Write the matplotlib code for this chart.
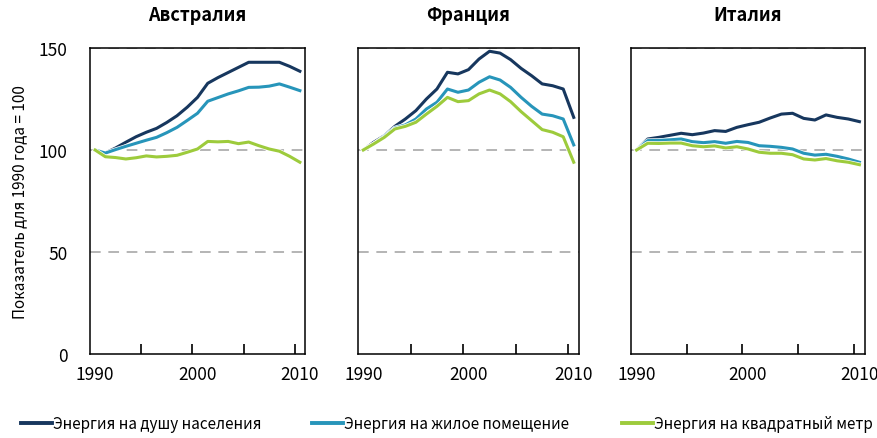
import matplotlib
matplotlib.use("Agg")
import matplotlib.pyplot as plt
import matplotlib.patheffects as pe
from matplotlib.lines import Line2D

plt.rcParams['font.family'] = ['Noto Sans CJK SC', 'DejaVu Sans']

years = list(range(1990, 2011))

# Австралия
aus_capita = [100, 98.5, 101, 103.8, 106.5, 108.7, 110.6, 113.5, 116.8, 121, 125.8,
              132.7, 135.5, 138, 140.5, 143, 143, 143, 143, 141, 138.6]
aus_dwelling = [100, 98.5, 100.2, 101.8, 103.3, 104.8, 106.2, 108.5, 111.1, 114.5, 118,
                123.9, 125.7, 127.5, 129, 130.7, 130.8, 131.3, 132.4, 130.8, 129.1]
aus_sqm = [100, 96.7, 96.3, 95.6, 96.2, 97.1, 96.6, 96.9, 97.4, 98.9, 100.5,
           104.2, 104.0, 104.2, 103.1, 103.9, 102.1, 100.5, 99.4, 96.9, 94.0]

# Франция
fra_capita = [100, 103.8, 107, 111.6, 115.2, 119.3, 125, 129.9, 138.1, 137.3, 139.4,
              144.6, 148.4, 147.5, 144.3, 140, 136.4, 132.4, 131.5, 129.9, 116]
fra_dwelling = [100, 103, 106.7, 110.8, 112.3, 115.2, 120.1, 123.4, 129.9, 128.3, 129.4,
                133.2, 135.9, 134.3, 130.7, 125.8, 121.4, 117.6, 116.8, 115.2, 102.5]
fra_sqm = [100, 103, 106.2, 110.3, 111.6, 113.6, 117.6, 121.4, 125.8, 123.7, 124.2,
           127.5, 129.4, 127.5, 123.7, 118.8, 114.4, 110, 108.7, 106.5, 94]

# Италия
ita_capita = [100, 105.4, 106.2, 107.2, 108.2, 107.5, 108.3, 109.5, 109.1, 111.1, 112.4,
              113.6, 115.7, 117.6, 118.0, 115.5, 114.7, 117.2, 116.0, 115.2, 113.9]
ita_dwelling = [100, 104.6, 104.7, 105, 105.4, 104.1, 103.6, 104.1, 103.3, 104.2, 103.7,
                102.1, 101.8, 101.3, 100.5, 98.4, 97.5, 97.9, 96.9, 95.6, 94]
ita_sqm = [100, 103.3, 103.2, 103.4, 103.4, 102.1, 101.6, 102, 101, 101.6, 100.5,
           98.9, 98.4, 98.4, 97.7, 95.6, 95.1, 95.8, 94.7, 94, 92.8]

countries = ['Австралия', 'Франция', 'Италия']
series_names = ['Энергия на душу населения', 'Энергия на жилое помещение', 'Энергия на квадратный метр']
colors = ['#17375E', '#2795BA', '#9DCB3C']
data = [[aus_capita, aus_dwelling, aus_sqm],
        [fra_capita, fra_dwelling, fra_sqm],
        [ita_capita, ita_dwelling, ita_sqm]]

W, H = 877, 439
fig = plt.figure(figsize=(W / 100, H / 100), dpi=100)

# границы панелей в пикселях (лево, право)
panels = [(90, 305), (358, 579), (631, 865)]
top_px, bottom_px = 49, 355

for i, (l, r) in enumerate(panels):
    ax = fig.add_axes([l / W, 1 - bottom_px / H, (r - l) / W, (bottom_px - top_px) / H])
    for j, vals in enumerate(data[i]):
        ax.plot(years, vals, color=colors[j], lw=2.2, solid_joinstyle='round',
                path_effects=[pe.Stroke(linewidth=3.2, foreground='white'), pe.Normal()])
    ax.set_xlim(1989.5, 2010.5)
    ax.set_ylim(0, 150)
    ax.set_yticks([0, 50, 100, 150])
    for g in [50, 100, 150]:
        ax.axhline(g, color='#A0A0A0', lw=1.1, dashes=(7, 5), zorder=0)
    ax.tick_params(axis='y', length=0, pad=16, labelsize=12.5)
    if i > 0:
        ax.set_yticklabels([])
    # деления между категориями, подписи по центру
    ax.set_xticks([1994.5, 1999.5, 2004.5, 2009.5])
    ax.set_xticklabels([])
    ax.tick_params(axis='x', which='major', direction='in', length=7, width=1.2)
    ax.set_xticks([1990, 2000, 2010], minor=True)
    ax.set_xticklabels(['1990', '2000', '2010'], minor=True)
    ax.tick_params(axis='x', which='minor', length=0, pad=8, labelsize=12.5)
    for s in ax.spines.values():
        s.set_linewidth(1.1)
    ax.set_title(countries[i], fontsize=13, fontweight='bold', pad=20)
    if i == 0:
        ax.set_ylabel('Показатель для 1990 года = 100', fontsize=11, labelpad=8)

# подписи серий: каждая на своём месте внизу
leg_x = [21, 312, 622]
for j in range(3):
    leg = fig.legend([Line2D([0], [0], color=colors[j], lw=2.8)], [series_names[j]],
                     loc='center left', bbox_to_anchor=(leg_x[j] / W, 14 / H),
                     frameon=False, fontsize=11, handlelength=2.0, handletextpad=0.1,
                     borderpad=0, borderaxespad=0)

fig.savefig('out.png', dpi=100)
